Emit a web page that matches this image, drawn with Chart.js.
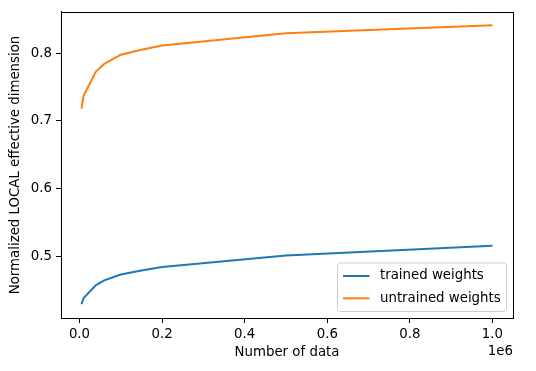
<!DOCTYPE html>
<html>
<head>
<meta charset="utf-8">
<script src="https://cdn.jsdelivr.net/npm/chart.js@4"></script>
<style>
  html, body { margin: 0; padding: 0; background: #fff; }
  #wrap { width: 536px; height: 371px; position: relative; }
</style>
</head>
<body>
<div id="wrap"><canvas id="chart" width="536" height="371"></canvas></div>
<script>
// ===== Data =====
const numData = [5000, 10000, 40000, 60000, 100000, 150000, 200000, 500000, 1000000];
const trained = [0.430, 0.439, 0.458, 0.465, 0.4735, 0.4795, 0.4845, 0.5015, 0.516];
const untrained = [0.718, 0.737, 0.773, 0.784, 0.7975, 0.805, 0.811, 0.829, 0.841];
const xTicks = [0, 200000, 400000, 600000, 800000, 1000000];
const yTicks = [0.5, 0.6, 0.7, 0.8];
const seriesNames = ["trained weights", "untrained weights"];

const BLUE = "#1f77b4", ORANGE = "#ff7f0e";
const FONT = "'DejaVu Sans', sans-serif";
const FS = 13.33;

const toPoints = ys => numData.map((x, i) => ({ x: x, y: ys[i] }));

// frame, offset text and legend
const extras = {
  id: "extras",
  afterDraw(chart) {
    const ctx = chart.ctx, a = chart.chartArea;
    ctx.save();
    ctx.strokeStyle = "#000";
    ctx.lineWidth = 1;
    ctx.strokeRect(Math.round(a.left) + 0.5, Math.round(a.top) + 0.5,
      Math.round(a.right - a.left), Math.round(a.bottom - a.top));

    ctx.fillStyle = "#000";
    ctx.font = FS + "px " + FONT;
    ctx.textAlign = "right";
    ctx.textBaseline = "middle";
    ctx.fillText("1e6", a.right, 352);

    // legend (lower right)
    const bx = 337.5, by = 263, bw = 169, bh = 48.5;
    ctx.fillStyle = "rgba(255,255,255,0.8)";
    ctx.strokeStyle = "#cccccc";
    ctx.beginPath();
    ctx.roundRect(bx, by, bw, bh, 3);
    ctx.fill();
    ctx.stroke();
    const colors = [BLUE, ORANGE];
    ctx.textAlign = "left";
    seriesNames.forEach((name, i) => {
      const y = by + 13 + i * 22.3;
      ctx.strokeStyle = colors[i];
      ctx.lineWidth = 2;
      ctx.beginPath();
      ctx.moveTo(343, y);
      ctx.lineTo(369.5, y);
      ctx.stroke();
      ctx.fillStyle = "#000";
      ctx.fillText(name, 380, y);
    });
    ctx.restore();
  }
};

new Chart(document.getElementById("chart"), {
  type: "line",
  data: {
    datasets: [
      { label: seriesNames[0], data: toPoints(trained), borderColor: BLUE, borderWidth: 2, pointRadius: 0, tension: 0, fill: false },
      { label: seriesNames[1], data: toPoints(untrained), borderColor: ORANGE, borderWidth: 2, pointRadius: 0, tension: 0, fill: false }
    ]
  },
  options: {
    responsive: false,
    animation: false,
    layout: { padding: { top: 10, right: 23, left: 0, bottom: 0 } },
    plugins: { legend: { display: false }, tooltip: { enabled: false } },
    scales: {
      x: {
        type: "linear",
        min: -44750,
        max: 1049750,
        afterBuildTicks: s => { s.ticks = xTicks.map(v => ({ value: v })); },
        afterFit: s => { s.height = 53; },
        grid: { drawOnChartArea: false, tickLength: 5, tickColor: "#000" },
        border: { display: true, color: "#000" },
        ticks: {
          color: "#000", padding: 4, maxRotation: 0,
          font: { family: FONT, size: FS },
          callback: v => (v / 1e6).toFixed(1)
        },
        title: { display: true, text: "Number of data", color: "#000", font: { family: FONT, size: FS }, padding: { top: 0, bottom: 10 } }
      },
      y: {
        type: "linear",
        min: 0.4095,
        max: 0.8605,
        afterBuildTicks: s => { s.ticks = yTicks.map(v => ({ value: v })); },
        afterFit: s => { s.width = 61; },
        grid: { drawOnChartArea: false, tickLength: 5, tickColor: "#000" },
        border: { display: true, color: "#000" },
        ticks: {
          color: "#000", padding: 4,
          font: { family: FONT, size: FS },
          callback: v => v.toFixed(1)
        },
        title: { display: true, text: "Normalized LOCAL effective dimension", color: "#000", font: { family: FONT, size: FS }, padding: { top: 8, bottom: 0 } }
      }
    }
  },
  plugins: [extras]
});
</script>
</body>
</html>
